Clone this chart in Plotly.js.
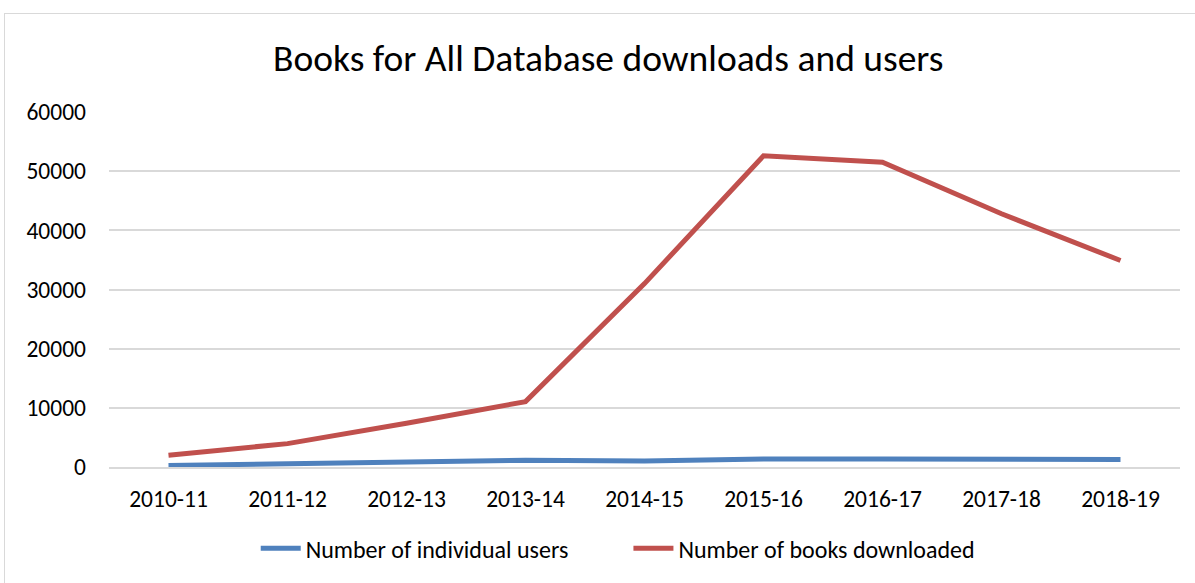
<!DOCTYPE html>
<html>
<head>
<meta charset="utf-8">
<script src="https://cdn.plot.ly/plotly-3.0.1.min.js"></script>
<style>
  html, body { margin: 0; padding: 0; background: #fff; }
  #frame { position: absolute; left: 4px; top: 13px; width: 1195px; height: 580px; border: 1px solid #d9d9d9; box-sizing: border-box; }
  #chart { position: absolute; left: 0; top: 0; width: 1195px; height: 583px; }
</style>
</head>
<body>
<div id="frame"></div>
<div id="chart"></div>
<script>
const categories = ["2010-11", "2011-12", "2012-13", "2013-14", "2014-15", "2015-16", "2016-17", "2017-18", "2018-19"];
const individualUsers = [250, 500, 800, 1150, 1000, 1350, 1350, 1300, 1250];
const booksDownloaded = [2000, 3950, 7400, 11050, 31000, 52600, 51500, 42800, 34900];
const yTicks = [0, 10000, 20000, 30000, 40000, 50000, 60000];

const FONT = "Carlito, Calibri, Lato, sans-serif";

const traces = [
  { x: categories, y: individualUsers, type: "scatter", mode: "lines", name: "Number of individual users",
    line: { color: "#4F81BD", width: 5 }, legend: "legend" },
  { x: categories, y: booksDownloaded, type: "scatter", mode: "lines", name: "Number of books downloaded",
    line: { color: "#C0504D", width: 5 }, legend: "legend2" }
];

const legendFont = { family: FONT, size: 24, color: "#000" };

const layout = {
  width: 1195, height: 583,
  paper_bgcolor: "rgba(0,0,0,0)", plot_bgcolor: "rgba(0,0,0,0)",
  margin: { l: 109, r: 15, t: 112, b: 116 },
  font: { family: FONT, color: "#000" },
  title: { text: "Books for All Database downloads and users", font: { family: FONT, size: 37.5, color: "#000" },
           x: 0.509, xanchor: "center", y: 0.9, yanchor: "middle" },
  xaxis: { type: "category", range: [-0.5, 8.5], showgrid: false, zeroline: false,
           showline: true, linecolor: "#d9d9d9", linewidth: 2, ticks: "",
           tickfont: { family: FONT, size: 23.5, color: "#000" }, ticklabelstandoff: 10, fixedrange: true },
  yaxis: { range: [0, 60000], tickvals: yTicks, ticktext: yTicks.map(String), showgrid: true,
           gridcolor: "#d9d9d9", gridwidth: 2, zeroline: false, showline: false, ticks: "",
           tickfont: { family: FONT, size: 23.5, color: "#000" }, ticklabelstandoff: 22, fixedrange: true },
  showlegend: true,
  legend: { orientation: "h", x: 0.137, xanchor: "left", y: -0.23, yanchor: "middle",
            font: legendFont, itemwidth: 40 },
  legend2: { orientation: "h", x: 0.485, xanchor: "left", y: -0.23, yanchor: "middle",
             font: legendFont, itemwidth: 40 }
};

Plotly.newPlot("chart", traces, layout, { displayModeBar: false, staticPlot: true });
</script>
</body>
</html>
